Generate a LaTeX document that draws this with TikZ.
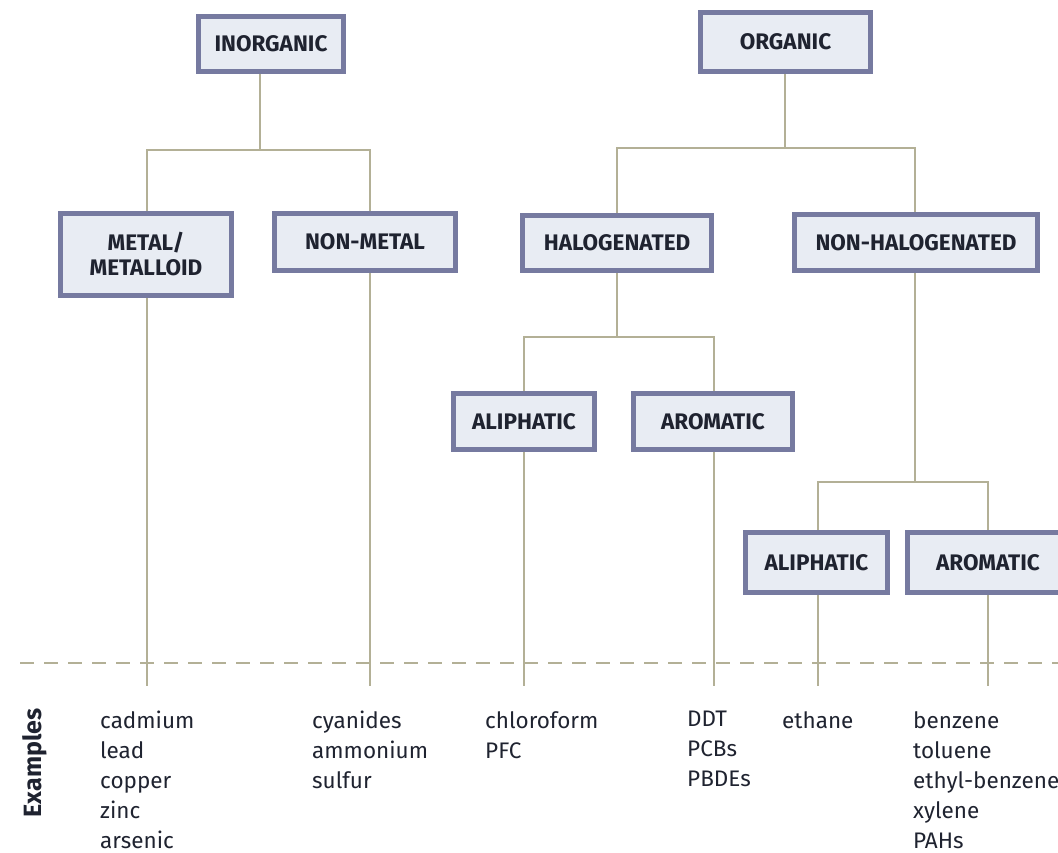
\documentclass[tikz,border=0pt]{standalone}
\usepackage{fontspec}
\setmainfont{Fira Sans}
\definecolor{boxborder}{HTML}{767AA0}
\definecolor{boxfill}{HTML}{E8ECF3}
\definecolor{linec}{HTML}{B3B096}
\definecolor{txt}{HTML}{1F2330}
\begin{document}
\begin{tikzpicture}[x=1pt,y=-1pt,
  cat/.style={draw=boxborder, fill=boxfill, line width=5pt, text=txt,
    font=\fontsize{22.5}{25}\selectfont\bfseries, align=center, inner sep=0pt},
  conn/.style={draw=linec, line width=1.6pt},
  ex/.style={anchor=north west, align=left, text=txt, inner sep=0pt,
    font=\fontsize{22.5}{30}\selectfont},
]
\useasboundingbox (0,0) rectangle (1058,853);
% boxes
\node[cat, minimum width=145, minimum height=55] (inorg) at (271,44) {INORGANIC};
\node[cat, minimum width=170, minimum height=59] (org) at (785.5,42) {ORGANIC};
\node[cat, minimum width=171, minimum height=82] (metal) at (146,254.5) {METAL/\\METALLOID};
\node[cat, minimum width=181, minimum height=57] (nonmetal) at (365,242) {NON-METAL};
\node[cat, minimum width=189, minimum height=55] (halo) at (617,243) {HALOGENATED};
\node[cat, minimum width=243, minimum height=56] (nonhalo) at (916,242.5) {NON-HALOGENATED};
\node[cat, minimum width=141, minimum height=56] (aliph1) at (524,421.5) {ALIPHATIC};
\node[cat, minimum width=159, minimum height=56] (arom1) at (713,421.5) {AROMATIC};
\node[cat, minimum width=142, minimum height=60] (aliph2) at (816.5,562.5) {ALIPHATIC};
\node[cat, minimum width=162, minimum height=60] (arom2) at (988,562.5) {AROMATIC};
% junctions
\coordinate (jinorg) at (260,150);
\coordinate (jorg) at (785,148);
\coordinate (jhalo) at (617,337);
\coordinate (jnonhalo) at (915,482);
% end points
\coordinate (emetal) at (147,686);
\coordinate (enonmetal) at (370,686);
\coordinate (ealiph1) at (524,686);
\coordinate (earom1) at (714,686);
\coordinate (ealiph2) at (818,686);
\coordinate (earom2) at (988,686);
% connectors
\draw[conn] (inorg.south -| jinorg) -- (jinorg);
\draw[conn] (emetal |- metal.north) |- (jinorg) -| (enonmetal |- nonmetal.north);
\draw[conn] (org.south -| jorg) -- (jorg);
\draw[conn] (halo.north) |- (jorg) -| (jnonhalo |- nonhalo.north);
\draw[conn] (halo.south) -- (jhalo);
\draw[conn] (aliph1.north) |- (jhalo) -| (earom1 |- arom1.north);
\draw[conn] (jnonhalo |- nonhalo.south) -- (jnonhalo);
\draw[conn] (ealiph2 |- aliph2.north) |- (jnonhalo) -| (earom2 |- arom2.north);
\draw[conn] (emetal |- metal.south) -- (emetal);
\draw[conn] (enonmetal |- nonmetal.south) -- (enonmetal);
\draw[conn] (aliph1.south) -- (ealiph1);
\draw[conn] (earom1 |- arom1.south) -- (earom1);
\draw[conn] (ealiph2 |- aliph2.south) -- (ealiph2);
\draw[conn] (earom2 |- arom2.south) -- (earom2);
% dashed separator
\coordinate (dl) at (20,663);
\coordinate (dr) at (1058,663);
\draw[draw=linec, line width=1.6pt, dash pattern=on 14pt off 10pt] (dl) -- (dr);
% examples
\node[rotate=90, text=txt, font=\fontsize{25}{27}\selectfont\bfseries] (exlab) at (35,763) {Examples};
\node[ex] (exmetal) at (100,711) {cadmium\\lead\\copper\\zinc\\arsenic};
\node[ex] (exnonmetal) at (312,711) {cyanides\\ammonium\\sulfur};
\node[ex] (exaliph1) at (485,711) {chloroform\\PFC};
\node[ex] (exarom1) at (687,711) {DDT\\PCBs\\PBDEs};
\node[ex] (exaliph2) at (782,711) {ethane};
\node[ex] (exarom2) at (913,711) {benzene\\toluene\\ethyl-benzene\\xylene\\PAHs};
\end{tikzpicture}
\end{document}
